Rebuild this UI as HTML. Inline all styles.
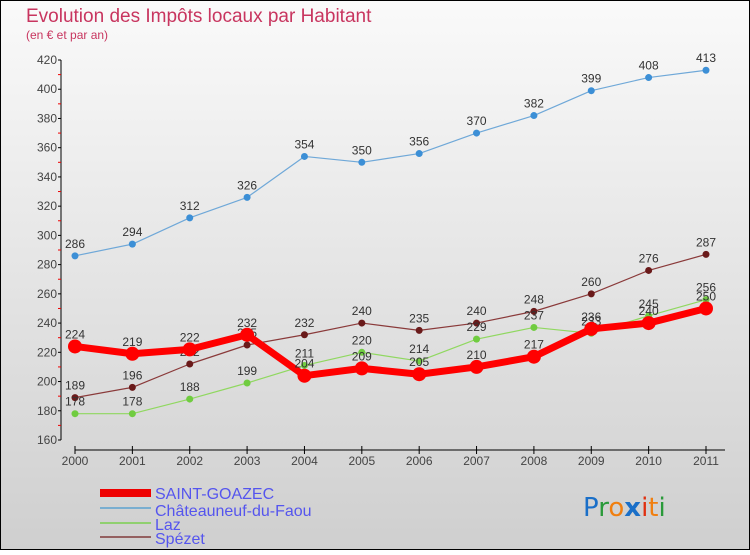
<!DOCTYPE html>
<html><head><meta charset="utf-8"><style>
body{margin:0;width:750px;height:550px;overflow:hidden;font-family:"Liberation Sans",sans-serif}
</style></head><body>
<svg width="750" height="550" xmlns="http://www.w3.org/2000/svg">
<defs><linearGradient id="bg" x1="0" y1="0" x2="0" y2="1"><stop offset="0" stop-color="#fafafa"/><stop offset="1" stop-color="#cfcfcf"/></linearGradient></defs>
<rect x="0.5" y="0.5" width="749" height="549" fill="url(#bg)" stroke="#000"/>
<text x="26" y="22" font-size="19" fill="#c8355f">Evolution des Impôts locaux par Habitant</text>
<text x="26" y="39" font-size="12" fill="#c8355f">(en € et par an)</text>
<g id="axes"></g>
<g id="series"></g>
<g id="legend">
<rect x="100" y="489" width="51" height="8" fill="#e00"/>
<text x="155" y="499" font-size="16" fill="#5555ee">SAINT-GOAZEC</text>
<line x1="100" y1="508" x2="151" y2="508" stroke="#7aaed0" stroke-width="2"/>
<text x="155" y="516" font-size="16" fill="#5555ee">Châteauneuf-du-Faou</text>
<line x1="100" y1="523" x2="151" y2="523" stroke="#90d070" stroke-width="2"/>
<text x="155" y="530" font-size="16" fill="#5555ee">Laz</text>
<line x1="100" y1="537" x2="151" y2="537" stroke="#946060" stroke-width="2"/>
<text x="155" y="544" font-size="16" fill="#5555ee">Spézet</text>
</g>
<g font-size="26" font-family="'DejaVu Sans',sans-serif">
<text x="583" y="516"><tspan fill="#1a6fc8">P</tspan><tspan fill="#2a9a3a">r</tspan><tspan fill="#f07f10">o</tspan><tspan fill="#1a6fc8" font-weight="bold">x</tspan><tspan fill="#e03010">i</tspan><tspan fill="#f07f10">t</tspan><tspan fill="#2a9a3a">i</tspan></text>
</g>
</svg>
<script>
const years=[2000,2001,2002,2003,2004,2005,2006,2007,2008,2009,2010,2011];
const saint=[224,219,222,232,204,209,205,210,217,236,240,250];
const chateau=[286,294,312,326,354,350,356,370,382,399,408,413];
const laz=[178,178,188,199,211,220,214,229,237,233,245,256];
const spezet=[189,196,212,225,232,240,235,240,248,260,276,287];
const yTicks=[160,180,200,220,240,260,280,300,320,340,360,380,400,420];
const NS="http://www.w3.org/2000/svg";
const X=i=>75+i*(706-75)/11;
const Y=v=>440-(v-160)*(380/260);
function mk(tag,attrs,parent){const e=document.createElementNS(NS,tag);for(const k in attrs)e.setAttribute(k,attrs[k]);parent.appendChild(e);return e;}
const ax=document.getElementById('axes');
let yl=mk('line',{x1:61,y1:60,x2:61,y2:440,stroke:'#000'},ax);


yTicks.forEach((v,i)=>{
  mk('line',{x1:58,y1:Y(v),x2:61,y2:Y(v),stroke:'#000'},ax);
  if(i<yTicks.length-1)mk('line',{x1:58,y1:Y(v+10),x2:61,y2:Y(v+10),stroke:'#e00'},ax);
  const t=mk('text',{x:57,y:Y(v)+4,'font-size':12,fill:'#444','text-anchor':'end'},ax);
  t.textContent=v;
  
  
});
let xl=mk('line',{x1:75,y1:450,x2:725,y2:450,stroke:'#000'},ax);


years.forEach((y,i)=>{
  mk('line',{x1:X(i),y1:450,x2:X(i),y2:454,stroke:'#000'},ax);
  mk('line',{x1:X(i),y1:446,x2:X(i),y2:450,stroke:'#000'},ax);
  const t=mk('text',{x:X(i),y:465,'font-size':12,fill:'#444','text-anchor':'middle'},ax);
  t.textContent=y;
  
  
});
const sg=document.getElementById('series');
function draw(data,color,lw,r,name,dot){
  const g=mk('g',{},sg);
  
  
  const p=mk('polyline',{points:data.map((v,i)=>X(i)+','+Y(v)).join(' '),fill:'none',stroke:color,'stroke-width':lw,'stroke-linejoin':'round'},g);
  
  
  data.forEach((v,i)=>{
    const c=mk('circle',{cx:X(i),cy:Y(v),r:r,fill:dot},g);
    
    
    const t=mk('text',{x:X(i),y:Y(v)-8,'font-size':12,fill:'#333','text-anchor':'middle'},g);
    t.textContent=v;
    
    
  });
}
draw(chateau,'#6fa8d8',1.2,3.5,'chateauneuf','#3c8fd6');
draw(spezet,'#8a3a3a',1.2,3.5,'spezet','#6a1a1a');
draw(laz,'#90d860',1.2,3.5,'laz','#70cc40');
draw(saint,'#f00',7,7,'saint-goazec','#f00');
</script>
</body></html>
